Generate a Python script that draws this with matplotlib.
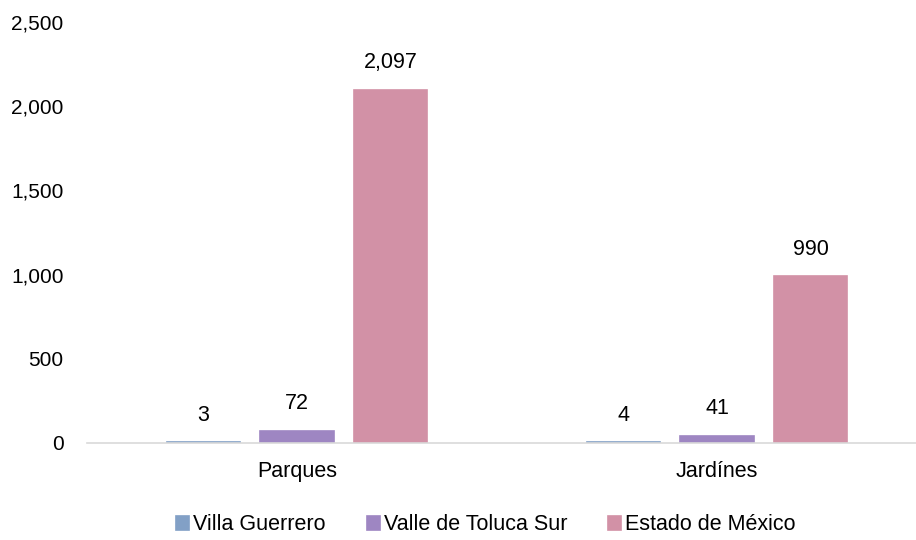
import matplotlib.pyplot as plt
import numpy as np

plt.rcParams["font.family"] = ["Liberation Sans", "DejaVu Sans"]

categories = ["Parques", "Jardínes"]
series = ["Villa Guerrero", "Valle de Toluca Sur", "Estado de México"]
values = [
    [3, 4],
    [72, 41],
    [2097, 990],
]
colors = ["#82A0C6", "#9E86C2", "#D291A6"]

fig = plt.figure(figsize=(9.16, 5.4), dpi=100)
# the category axis runs slightly past the right edge of the figure
ax = fig.add_axes([87 / 916, 97 / 540, 840 / 916, 421 / 540])

x = np.arange(len(categories))
width = 0.174
step = 0.223
for i, (name, vals) in enumerate(zip(series, values)):
    pos = x + (i - 1) * step
    bars = ax.bar(pos, vals, width, color=colors[i], edgecolor=colors[i],
                  linewidth=1.2, label=name)
    for b, v in zip(bars, vals):
        ax.annotate(f"{v:,}", (b.get_x() + b.get_width() / 2, v),
                    xytext=(0, 12), textcoords="offset points",
                    ha="center", va="bottom", fontsize=15.5)

ax.set_xlim(-0.5, 1.5)
ax.set_ylim(0, 2500)
ax.set_yticks(range(0, 2501, 500))
ax.yaxis.set_major_formatter(plt.FuncFormatter(lambda v, p: f"{int(v):,}"))
ax.set_xticks(x)
ax.set_xticklabels(categories)
ax.tick_params(axis="both", length=0, labelsize=15)
ax.tick_params(axis="x", pad=13, labelsize=15.5)
ax.tick_params(axis="y", pad=17)
for s in ["top", "right", "left"]:
    ax.spines[s].set_visible(False)
ax.spines["bottom"].set_color("#D9D9D9")
ax.spines["bottom"].set_linewidth(1.2)

fig.legend(*ax.get_legend_handles_labels(), loc="center",
           bbox_to_anchor=(486 / 916, 1 - 525 / 540), ncol=3, frameon=False,
           fontsize=15.5, handlelength=0.6, handleheight=0.6, handletextpad=0.2,
           columnspacing=1.9)

fig.savefig("out.png", dpi=100)
